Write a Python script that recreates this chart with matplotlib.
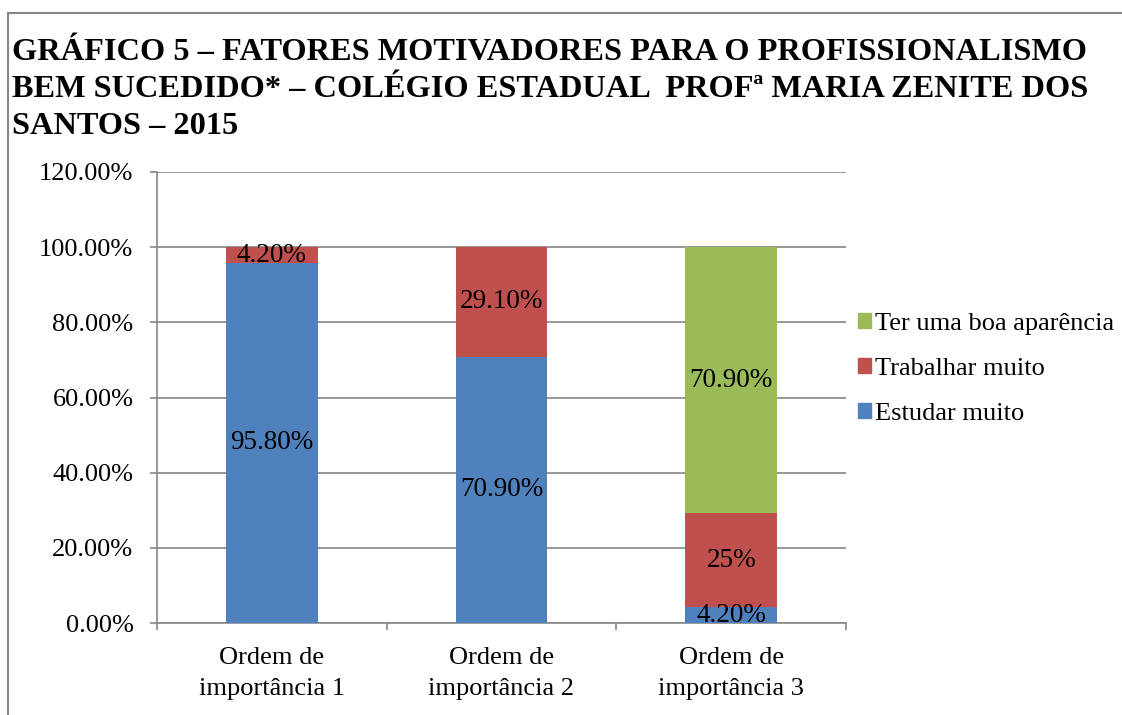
import matplotlib.pyplot as plt
from matplotlib.lines import Line2D
from matplotlib.patches import Patch
import numpy as np

plt.rcParams['font.family'] = ['Liberation Serif', 'DejaVu Serif']

categorias = ['Ordem de\nimportância 1', 'Ordem de\nimportância 2', 'Ordem de\nimportância 3']
estudar = [95.8, 70.9, 4.2]
trabalhar = [4.2, 29.1, 25.0]
aparencia = [0.0, 0.0, 70.9]
rot_estudar = ['95.80%', '70.90%', '4.20%']
rot_trabalhar = ['4.20%', '29.10%', '25%']
rot_aparencia = ['', '', '70.90%']
series = ['Estudar muito', 'Trabalhar muito', 'Ter uma boa aparência']
cores = ['#4F81BD', '#C0504D', '#9BBB59']
titulo = ('GRÁFICO 5 – FATORES MOTIVADORES PARA O PROFISSIONALISMO\n'
          'BEM SUCEDIDO* – COLÉGIO ESTADUAL  PROFª MARIA ZENITE DOS\n'
          'SANTOS – 2015')

W, H = 1122, 715
fig = plt.figure(figsize=(W / 100, H / 100), dpi=100)
ax = fig.add_axes([157 / W, 1 - 623 / H, 689 / W, 451 / H])

grid_c = '#868686'
# moldura do gráfico (só topo e esquerda visíveis)
fig.add_artist(Line2D([8 / W, 1], [1 - 13 / H] * 2, color=grid_c, lw=1.5,
                      transform=fig.transFigure))
fig.add_artist(Line2D([8 / W] * 2, [0, 1 - 13 / H], color=grid_c, lw=1.5,
                      transform=fig.transFigure))

x = np.arange(len(categorias))
base = np.zeros(len(categorias))
for vals, rots, cor, nome in zip([estudar, trabalhar, aparencia],
                                  [rot_estudar, rot_trabalhar, rot_aparencia],
                                  cores, series):
    vals = np.array(vals)
    ax.bar(x, vals, 0.4, bottom=base, color=cor, label=nome, zorder=3)
    for xi, b, v, r in zip(x, base, vals, rots):
        if r:
            ax.text(xi, b + v / 2, r, ha='center', va='center', fontsize=19.5, zorder=4)
    base = base + vals

ax.set_xlim(-0.5, 2.5)
ax.set_ylim(0, 120)
ax.set_yticks(np.arange(0, 121, 20))
ax.set_yticklabels(['%.2f%%' % v for v in np.arange(0, 121, 20)], fontsize=19)
ax.yaxis.grid(True, color=grid_c, lw=1.2, zorder=0)
ax.set_xticks(x)
ax.set_xticklabels(categorias, fontsize=19, linespacing=1.57)
ax.set_xticks([-0.5, 0.5, 1.5, 2.5], minor=True)
ax.tick_params(axis='x', which='major', length=0, pad=17)
ax.tick_params(axis='x', which='minor', length=5, color=grid_c, width=1.2)
ax.tick_params(axis='y', length=5, color=grid_c, width=1.2, pad=12)
for s in ['top', 'right']:
    ax.spines[s].set_visible(False)
for s in ['left', 'bottom']:
    ax.spines[s].set_color(grid_c)
    ax.spines[s].set_linewidth(1.2)

handles = [Patch(color=c, label=n) for c, n in zip(cores, series)][::-1]
fig.legend(handles=handles, loc='center left', bbox_to_anchor=(858 / W, 1 - 369 / H),
           frameon=False, fontsize=19, handlelength=0.5, handleheight=0.5,
           handletextpad=0.15, labelspacing=0.86, borderpad=0, borderaxespad=0)

fig.text(12 / W, 1 - 38 / H, titulo, fontsize=23.3, fontweight='bold',
         ha='left', va='top', linespacing=1.36)

fig.savefig('out.png', dpi=100)
